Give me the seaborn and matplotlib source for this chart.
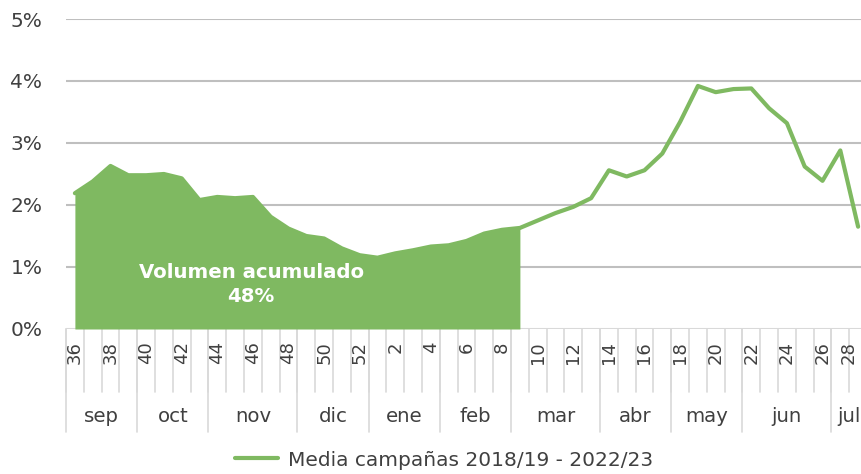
import numpy as np
import pandas as pd
import matplotlib
matplotlib.use("Agg")
import matplotlib.pyplot as plt
import seaborn as sns

# ---- data ----
weeks = list(range(36, 53)) + list(range(1, 29))
values = [2.19, 2.38, 2.63, 2.48, 2.48, 2.50, 2.43, 2.08, 2.13, 2.11,
          2.13, 1.81, 1.62, 1.50, 1.46, 1.30, 1.19, 1.15, 1.22, 1.27,
          1.33, 1.35, 1.42, 1.54, 1.60, 1.63, 1.75, 1.87, 1.97, 2.11,
          2.56, 2.46, 2.56, 2.83, 3.34, 3.92, 3.82, 3.87, 3.88, 3.56,
          3.32, 2.62, 2.39, 2.88, 1.65]
months = ["sep", "oct", "nov", "dic", "ene", "feb", "mar", "abr", "may", "jun", "jul"]
month_weeks = [4, 4, 5, 4, 4, 4, 5, 4, 4, 5, 2]
fill_until_week = 9
series_label = "Media campañas 2018/19 - 2022/23"
annot_text = "Volumen acumulado\n48%"
yticks = [0, 1, 2, 3, 4, 5]

df = pd.DataFrame({"pos": np.arange(len(weeks)), "week": weeks, "value": values})

sns.set_theme(style="white")
plt.rcParams["font.family"] = ["DejaVu Sans"]

GREEN = "#7fb961"
GRID = "#bfbfbf"
SEP = "#d9d9d9"
TXT = "#404040"

fig = plt.figure(figsize=(8.62, 4.74), dpi=100)
ax = fig.add_axes([66 / 862, (474 - 329) / 474, 801 / 862, 310 / 474])

fill_idx = weeks.index(fill_until_week)
ax.fill_between(df["pos"][: fill_idx + 1], 0, df["value"][: fill_idx + 1],
                color=GREEN, linewidth=0, zorder=2)
sns.lineplot(data=df, x="pos", y="value", color=GREEN, linewidth=3.0,
             ax=ax, zorder=3, label=series_label, legend=False)
line = ax.lines[-1]
line.set_solid_capstyle("round")
line.set_solid_joinstyle("round")

ax.set_xlim(-0.5, len(weeks) - 0.5)
ax.set_ylim(0, 5)
ax.set_yticks(yticks)
ax.set_yticklabels([f"{v}%" for v in yticks], fontsize=14.5, color=TXT)
for y in yticks[1:]:
    ax.axhline(y, color=GRID, linewidth=1.5, zorder=1)
ax.axhline(0, color=SEP, linewidth=1.5, zorder=1)
for s in ax.spines.values():
    s.set_visible(False)
ax.tick_params(axis="y", length=0, pad=17)
ax.tick_params(axis="x", length=0, pad=9)
ax.set_xlabel("")
ax.set_ylabel("")

tick_pos = [i for i in range(len(weeks)) if i % 2 == 0]
ax.set_xticks(tick_pos)
labels = ax.set_xticklabels([str(weeks[i]) for i in tick_pos], rotation=90,
                            fontsize=13, color=TXT, va="top", ha="center")
labels[-1].set_ha("right")

trans = ax.get_xaxis_transform()
h = 310
week_bottom = -63 / h
month_bottom = -103 / h
for i in range(len(weeks) + 1):
    ax.plot([i - 0.5, i - 0.5], [0, week_bottom], color=SEP, linewidth=1.2,
            transform=trans, clip_on=False, zorder=0)
start = 0
for m, n in zip(months, month_weeks):
    ax.plot([start - 0.5, start - 0.5], [0, month_bottom], color=SEP,
            linewidth=1.2, transform=trans, clip_on=False, zorder=0)
    ax.text(start - 0.5 + n / 2, -88 / h, m, transform=trans, ha="center",
            va="center", fontsize=14.2, color=TXT)
    start += n
ax.plot([start - 0.5, start - 0.5], [0, month_bottom], color=SEP,
        linewidth=1.2, transform=trans, clip_on=False, zorder=0)

ax.text(9.9, 0.72, annot_text, ha="center", va="center", fontsize=14.2,
        fontweight="bold", color="white", linespacing=1.3, zorder=4)

fig.legend(handles=[line], labels=[series_label], loc="center",
           bbox_to_anchor=(444 / 862, (474 - 460) / 474), frameon=False,
           fontsize=14.5, labelcolor=TXT, handlelength=2.1, handletextpad=0.5)

fig.savefig("out.png", dpi=100)
